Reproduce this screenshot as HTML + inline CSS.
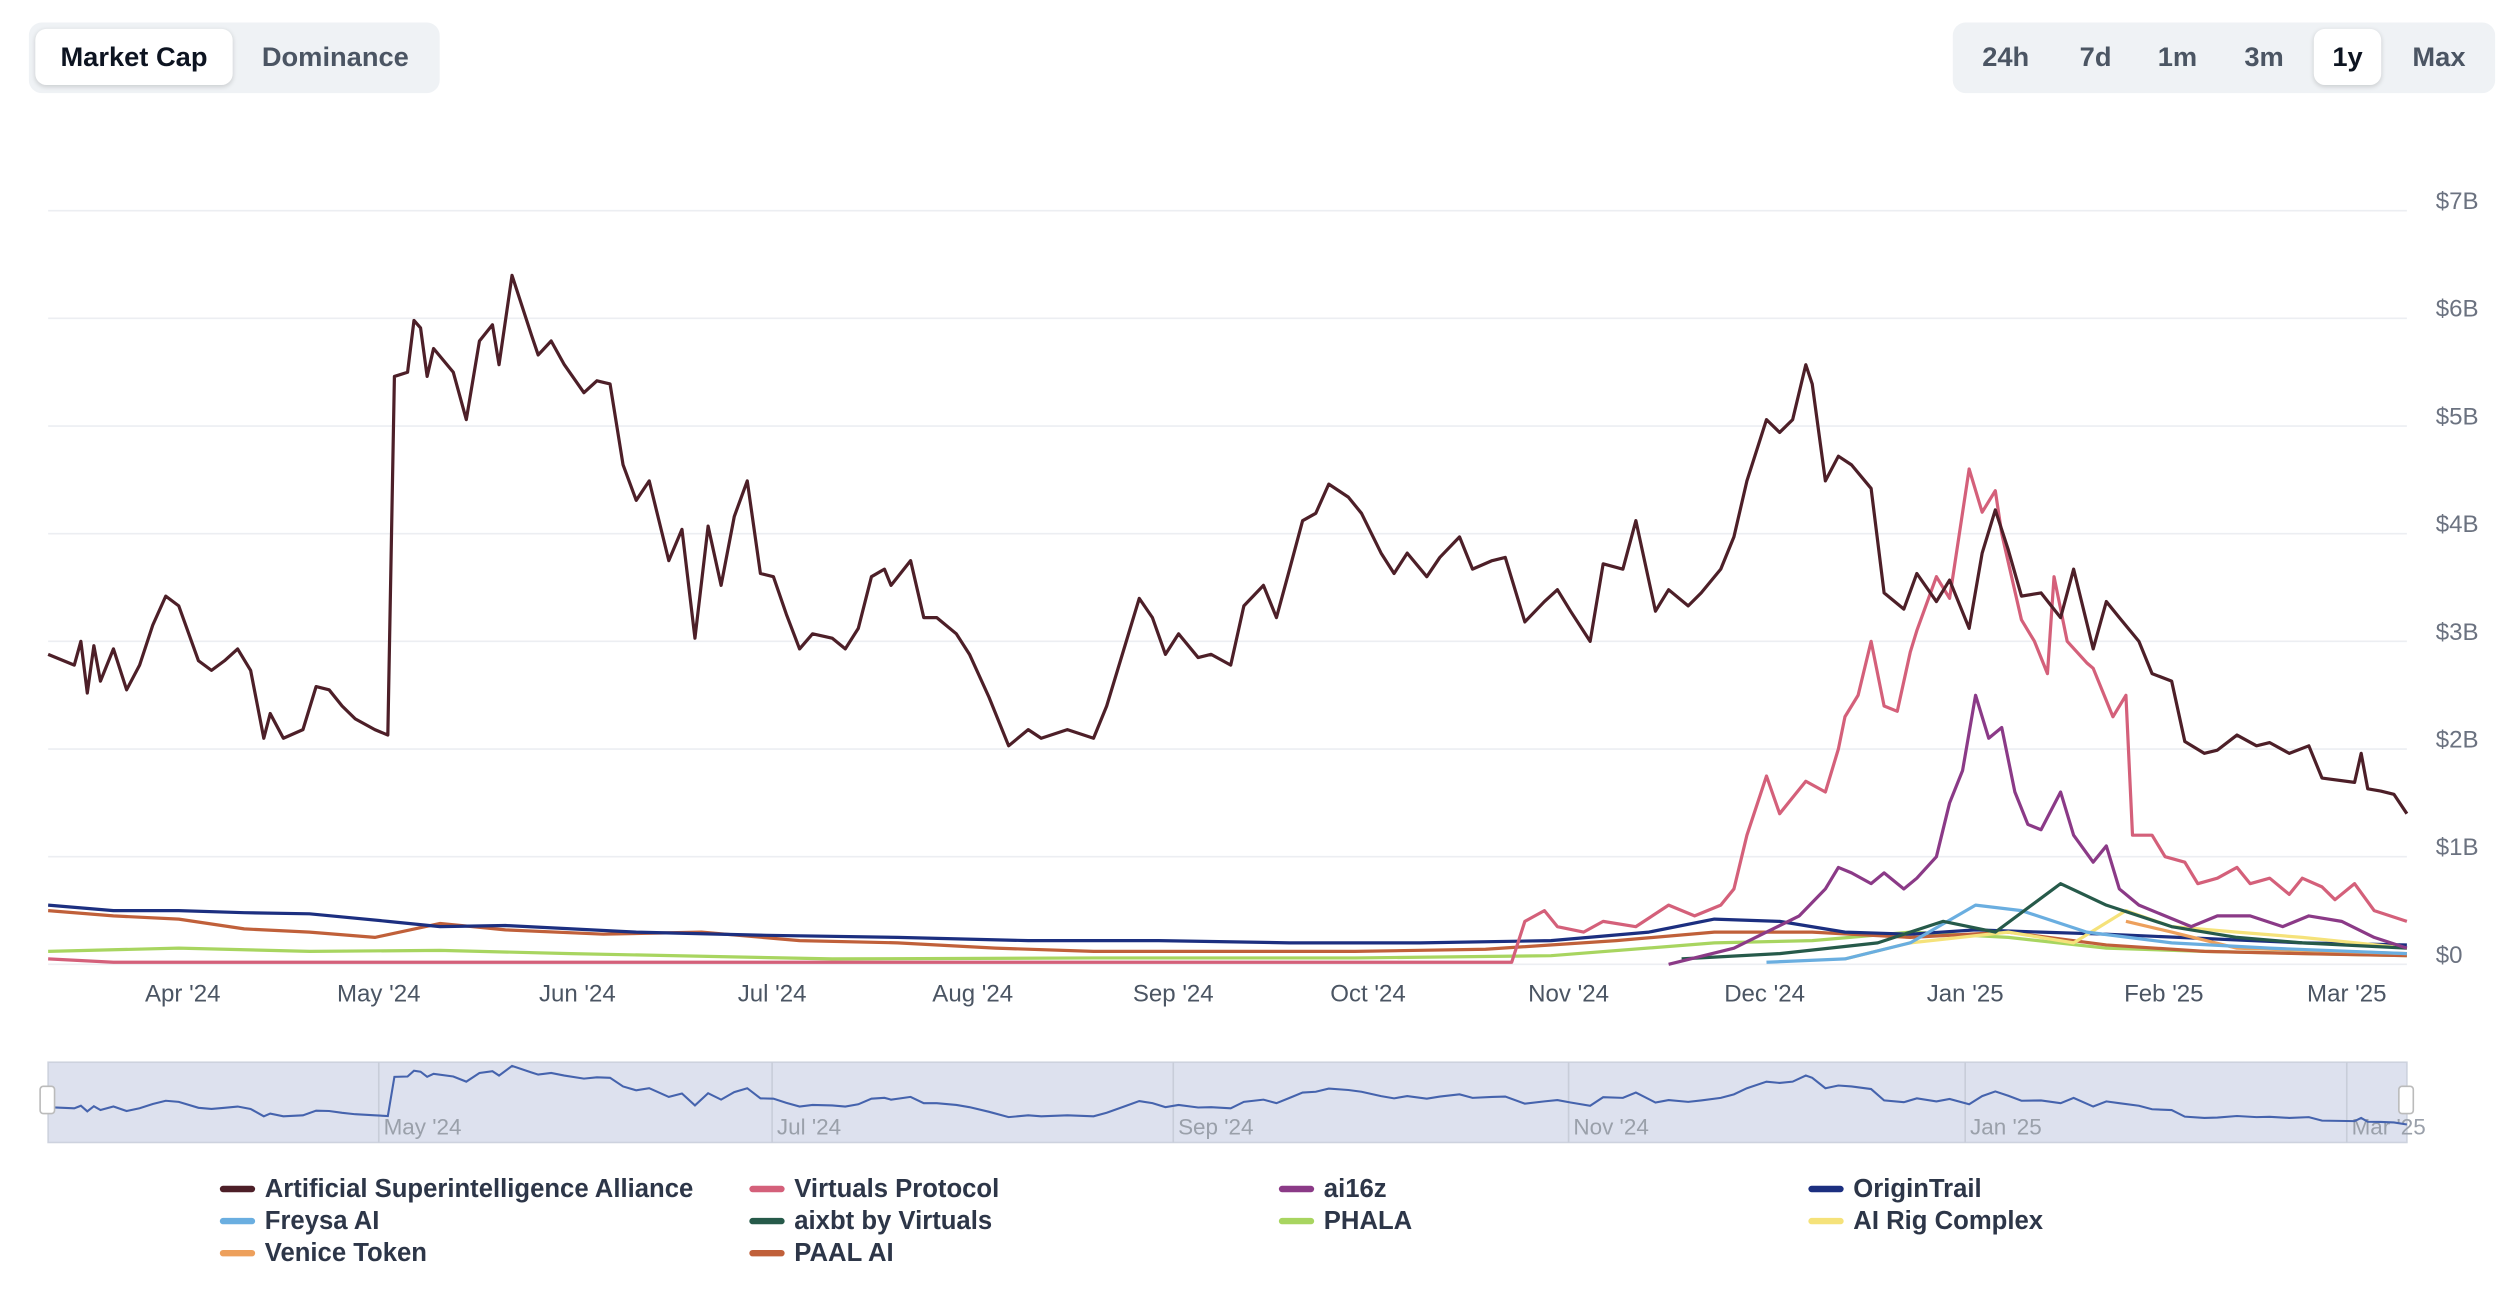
<!DOCTYPE html>
<html><head><meta charset="utf-8">
<style>
html,body{margin:0;padding:0;background:#fff;overflow:hidden;width:2516px;height:1292px}
#wrap{position:absolute;left:0;top:0;width:1568px;height:805px;transform:scale(1.60459);transform-origin:0 0;font-family:"Liberation Sans",sans-serif}
.grp{position:absolute;top:14px;height:44px;background:#eff2f5;border-radius:8px}
.btn{position:absolute;top:4px;height:35px;line-height:35px;font-size:17px;font-weight:bold;color:#4b5563;text-align:center}
.btn.on{background:#fff;color:#0d1421;border-radius:7px;box-shadow:0 1px 3px rgba(0,0,0,.15)}
.leg{position:absolute;font-size:16px;font-weight:bold;color:#2d3648;height:20px;line-height:20px}
.leg i{display:inline-block;width:22px;height:4px;border-radius:2px;vertical-align:middle;margin-right:6px;position:relative;top:-1px}
</style></head><body>
<div id="wrap">
<div class="grp" style="left:18px;width:256px">
 <div class="btn on" style="left:4px;width:123px">Market Cap</div>
 <div class="btn" style="left:134px;width:114px">Dominance</div>
</div>
<div class="grp" style="left:1217px;width:338px">
 <div class="btn" style="left:10px;width:46px">24h</div>
 <div class="btn" style="left:71px;width:36px">7d</div>
 <div class="btn" style="left:122px;width:36px">1m</div>
 <div class="btn" style="left:175px;width:38px">3m</div>
 <div class="btn on" style="left:225px;width:42px">1y</div>
 <div class="btn" style="left:280px;width:46px">Max</div>
</div>
<svg id="svg" width="1568" height="805" style="position:absolute;left:0;top:0"></svg>
<div class="leg" style="left:137px;top:732px"><i style="background:#4d1f28"></i>Artificial Superintelligence Alliance</div>
<div class="leg" style="left:467px;top:732px"><i style="background:#d4607a"></i>Virtuals Protocol</div>
<div class="leg" style="left:797px;top:732px"><i style="background:#8b3a87"></i>ai16z</div>
<div class="leg" style="left:1127px;top:732px"><i style="background:#1c2f80"></i>OriginTrail</div>
<div class="leg" style="left:137px;top:752px"><i style="background:#6aaee0"></i>Freysa AI</div>
<div class="leg" style="left:467px;top:752px"><i style="background:#265a4a"></i>aixbt by Virtuals</div>
<div class="leg" style="left:797px;top:752px"><i style="background:#a8d560"></i>PHALA</div>
<div class="leg" style="left:1127px;top:752px"><i style="background:#f5e27a"></i>AI Rig Complex</div>
<div class="leg" style="left:137px;top:772px"><i style="background:#eda05c"></i>Venice Token</div>
<div class="leg" style="left:467px;top:772px"><i style="background:#c0603a"></i>PAAL AI</div>
</div>
<script>
const yTicks=[0,1,2,3,4,5,6,7];
const yTickLabels=["$0","$1B","$2B","$3B","$4B","$5B","$6B","$7B"];
const xTickDays=[20.6,50.6,81,110.8,141.5,172.2,202,232.7,262.7,293.4,323.8,351.8];
const xTickLabels=["Apr '24","May '24","Jun '24","Jul '24","Aug '24","Sep '24","Oct '24","Nov '24","Dec '24","Jan '25","Feb '25","Mar '25"];
const navTickDays=[50.6,110.8,172.2,232.7,293.4,351.8];
const navTickLabels=["May '24","Jul '24","Sep '24","Nov '24","Jan '25","Mar '25"];
const asiDays=[0,4,5,6,7,8,10,12,14,16,18,20,23,25,27,29,31,33,34,36,39,41,43,45,47,50,52,53,55,56,57,58,59,62,64,66,68,69,71,74,75,77,79,82,84,86,88,90,92,95,97,99,101,103,105,107,109,111,113,115,117,120,122,124,126,128,129,132,134,136,139,141,144,147,150,152,156,160,162,165,167,169,171,173,176,178,181,183,186,188,190,192,194,196,199,201,204,206,208,211,213,216,218,221,223,226,229,231,233,236,238,241,243,246,248,251,253,256,258,260,263,265,267,269,270,272,274,276,279,281,284,286,289,291,294,296,298,300,302,305,308,310,313,315,317,320,322,325,327,330,332,335,338,340,343,346,348,353,354,355,357,359,361];
const asiVals=[2.88,2.78,3.0,2.52,2.96,2.63,2.93,2.55,2.78,3.15,3.42,3.33,2.82,2.73,2.82,2.93,2.73,2.1,2.33,2.1,2.18,2.58,2.55,2.4,2.28,2.18,2.13,5.46,5.5,5.98,5.91,5.46,5.72,5.5,5.06,5.79,5.94,5.57,6.4,5.84,5.66,5.79,5.57,5.31,5.42,5.39,4.64,4.31,4.49,3.75,4.04,3.03,4.07,3.52,4.16,4.49,3.63,3.6,3.25,2.93,3.07,3.03,2.93,3.12,3.6,3.67,3.52,3.75,3.22,3.22,3.07,2.88,2.48,2.03,2.18,2.1,2.18,2.1,2.4,3.0,3.4,3.22,2.88,3.07,2.85,2.88,2.78,3.33,3.52,3.22,3.67,4.12,4.19,4.46,4.34,4.19,3.82,3.63,3.82,3.6,3.78,3.97,3.67,3.75,3.78,3.18,3.37,3.48,3.28,3.0,3.72,3.67,4.12,3.28,3.48,3.33,3.45,3.67,3.97,4.49,5.06,4.94,5.06,5.57,5.39,4.49,4.72,4.64,4.42,3.45,3.3,3.63,3.37,3.57,3.12,3.82,4.22,3.85,3.42,3.45,3.22,3.67,2.93,3.37,3.22,3.0,2.7,2.63,2.07,1.96,1.99,2.13,2.03,2.06,1.96,2.03,1.73,1.69,1.96,1.63,1.61,1.58,1.4];
const virDays=[0,10,224,226,229,231,235,238,243,248,252,256,258,260,263,265,267,269,272,274,275,277,279,281,283,285,286,289,291,294,296,298,299,302,304,306,307,309,312,313,316,318,319,322,324,327,329,332,335,337,340,343,345,348,350,353,356,361];
const virVals=[0.05,0.02,0.02,0.4,0.5,0.35,0.3,0.4,0.35,0.55,0.45,0.55,0.7,1.2,1.75,1.4,1.55,1.7,1.6,2.0,2.3,2.5,3.0,2.4,2.35,2.9,3.1,3.6,3.4,4.6,4.2,4.4,4.0,3.2,3.0,2.7,3.6,3.0,2.8,2.75,2.3,2.5,1.2,1.2,1.0,0.95,0.75,0.8,0.9,0.75,0.8,0.65,0.8,0.72,0.6,0.75,0.5,0.4];
const aiDays=[248,258,263,268,272,274,276,279,281,284,286,289,291,293,295,297,299,301,303,305,308,310,313,315,317,320,324,328,332,337,342,346,351,356,361];
const aiVals=[0.0,0.15,0.3,0.45,0.7,0.9,0.85,0.75,0.85,0.7,0.8,1.0,1.5,1.8,2.5,2.1,2.2,1.6,1.3,1.25,1.6,1.2,0.95,1.1,0.7,0.55,0.45,0.35,0.45,0.45,0.35,0.45,0.4,0.25,0.15];
const otDays=[0,10,20,30,40,52,60,70,90,110,130,150,170,190,210,230,245,255,265,275,285,295,305,315,330,345,361];
const otVals=[0.55,0.5,0.5,0.48,0.47,0.4,0.35,0.36,0.3,0.27,0.25,0.22,0.22,0.2,0.2,0.22,0.3,0.42,0.4,0.3,0.28,0.32,0.3,0.28,0.24,0.2,0.18];
const paalDays=[0,10,20,30,40,50,60,70,85,100,115,130,145,160,180,200,220,240,255,270,285,300,315,330,345,361];
const paalVals=[0.5,0.45,0.42,0.33,0.3,0.25,0.38,0.32,0.28,0.3,0.22,0.2,0.15,0.12,0.12,0.12,0.14,0.22,0.3,0.3,0.25,0.3,0.18,0.12,0.1,0.08];
const phaDays=[0,20,40,60,80,120,160,200,230,255,270,285,300,315,330,361];
const phaVals=[0.12,0.15,0.12,0.13,0.1,0.05,0.06,0.06,0.08,0.2,0.22,0.3,0.25,0.15,0.12,0.08];
const freDays=[263,275,285,295,302,312,325,340,361];
const freVals=[0.02,0.05,0.2,0.55,0.5,0.3,0.2,0.15,0.1];
const aixDays=[250,265,280,290,298,308,315,325,335,345,361];
const aixVals=[0.05,0.1,0.2,0.4,0.3,0.75,0.55,0.35,0.25,0.2,0.15];
const rigDays=[275,285,300,310,318,325,335,345,361];
const rigVals=[0.05,0.2,0.3,0.2,0.5,0.35,0.3,0.25,0.15];
const venDays=[318,325,335,361];
const venVals=[0.4,0.3,0.15,0.1];

const NS="http://www.w3.org/2000/svg";
const svg=document.getElementById('svg');
const X0=30,X1=1500,D0=0,D1=361;
const Y0=601,YPER=67.1;
function xs(d){return X0+(d-D0)/(D1-D0)*(X1-X0);}
function ys(v){return Y0-v*YPER;}
function navY(v){return 711-v*7.3;}
function mk(tag,attrs){const e=document.createElementNS(NS,tag);for(const k in attrs)e.setAttribute(k,attrs[k]);svg.appendChild(e);return e;}

yTicks.forEach((t,i)=>{
  const g=mk('line',{x1:X0,x2:X1,y1:ys(t),y2:ys(t),stroke:'#eceef2','stroke-width':1});
  
  
  const tx=mk('text',{x:1518,y:ys(t)-1,'font-size':15,fill:'#6b7280','font-family':'Liberation Sans, sans-serif'});
  tx.textContent=yTickLabels[i];
  
  
});
xTickDays.forEach((d,i)=>{
  const tx=mk('text',{x:xs(d),y:624,'font-size':15,fill:'#4b5563','text-anchor':'middle','font-family':'Liberation Sans, sans-serif'});
  tx.textContent=xTickLabels[i];
  
  
});
function series(days,vals,color,name,w){
  let d='';days.forEach((dd,i)=>{d+=(i?'L':'M')+xs(dd).toFixed(1)+','+ys(vals[i]).toFixed(1);});
  const p=mk('path',{d:d,fill:'none',stroke:color,'stroke-width':w||2,'stroke-linejoin':'round'});
  
  
}
series(phaDays,phaVals,'#a8d560','series-phala');
series(paalDays,paalVals,'#c0603a','series-paal-ai');
series(otDays,otVals,'#1c2f80','series-origintrail');
series(venDays,venVals,'#eda05c','series-venice-token');
series(rigDays,rigVals,'#f5e27a','series-ai-rig-complex');
series(freDays,freVals,'#6aaee0','series-freysa-ai');
series(aixDays,aixVals,'#265a4a','series-aixbt');
series(aiDays,aiVals,'#8b3a87','series-ai16z');
series(virDays,virVals,'#d4607a','series-virtuals-protocol');
series(asiDays,asiVals,'#4d1f28','series-asi');

const nb=mk('rect',{x:X0,y:662,width:X1-X0,height:50,fill:'#dde1ee',stroke:'#cdd2de','stroke-width':1});


navTickDays.forEach((d,i)=>{
  const l=mk('line',{x1:xs(d),x2:xs(d),y1:662,y2:712,stroke:'#c8cdd9','stroke-width':1});
  
  
  const tx=mk('text',{x:xs(d)+3,y:707,'font-size':14,fill:'#9aa0aa','font-family':'Liberation Sans, sans-serif'});
  tx.textContent=navTickLabels[i];
  
  
});
let nd='';asiDays.forEach((dd,i)=>{nd+=(i?'L':'M')+xs(dd).toFixed(1)+','+navY(asiVals[i]).toFixed(1);});
const np=mk('path',{d:nd,fill:'none',stroke:'#4563ad','stroke-width':1.3});


[[X0-5,'navigator-left-handle'],[X1-5,'navigator-right-handle']].forEach(h=>{
  const r=mk('rect',{x:h[0],y:677,width:9,height:17,rx:2,fill:'#fff',stroke:'#bbb','stroke-width':1});
  
  
});
</script>
</body></html>
